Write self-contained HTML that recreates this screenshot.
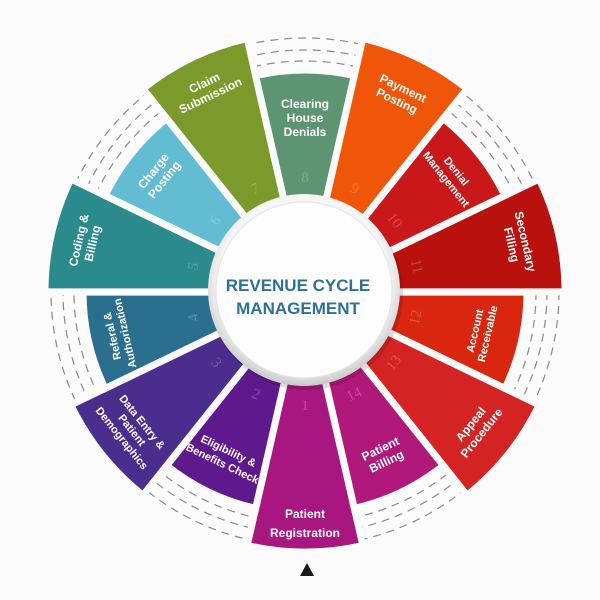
<!DOCTYPE html>
<html><head><meta charset="utf-8"><style>
html,body{margin:0;padding:0;background:#fbfbfb;}
svg{display:block;}
.l{font-family:"Liberation Sans",sans-serif;font-weight:bold;font-size:12px;fill:#fff;text-anchor:middle;}
.s{font-size:11px;}
.n{font-family:"Liberation Serif",serif;font-size:15px;fill:#fff;fill-opacity:0.22;text-anchor:middle;}
</style></head><body>
<svg width="600" height="600" viewBox="0 0 600 600" xmlns="http://www.w3.org/2000/svg">
<defs>
<radialGradient id="cg" cx="50%" cy="45%" r="55%">
<stop offset="0" stop-color="#ffffff"/><stop offset="0.8" stop-color="#f6f6f6"/><stop offset="0.9" stop-color="#e2e2e2"/><stop offset="1" stop-color="#c8c8c8"/>
</radialGradient>
<path id="L" d="M-17.8,-78 L-57.85,-253.5 A260,260 0 0 1 57.85,-253.5 L17.8,-78 Z"/>
<path id="S" d="M-17.8,-78 L-49.4,-216.4 A222,222 0 0 1 49.4,-216.4 L17.8,-78 Z"/>
</defs>
<g fill="none" stroke="#8a8a8a" stroke-width="1.2" stroke-dasharray="8 6">
<circle cx="305" cy="292" r="217"/><circle cx="305" cy="292" r="231"/><circle cx="305" cy="292" r="242"/><circle cx="305" cy="292" r="254"/>
</g>
<g transform="translate(305,292)" stroke="#fbfbfb" stroke-width="7" stroke-linejoin="miter">
<use href="#L" fill="#a8177f" transform="rotate(180)"/>
<use href="#S" fill="#5e1a8c" transform="rotate(205.7)"/>
<use href="#L" fill="#4a2d8c" transform="rotate(231.4)"/>
<use href="#S" fill="#2b6f8f" transform="rotate(257.1)"/>
<use href="#L" fill="#2a8a8c" transform="rotate(282.9)"/>
<use href="#S" fill="#62bcd2" transform="rotate(308.6)"/>
<use href="#L" fill="#7b9a2b" transform="rotate(334.3)"/>
<use href="#S" fill="#5d9472" transform="rotate(0)"/>
<use href="#L" fill="#f0560a" transform="rotate(25.7)"/>
<use href="#S" fill="#c9181a" transform="rotate(51.4)"/>
<use href="#L" fill="#b8110e" transform="rotate(77.1)"/>
<use href="#S" fill="#d8260f" transform="rotate(102.9)"/>
<use href="#L" fill="#d42323" transform="rotate(128.6)"/>
<use href="#S" fill="#b0187a" transform="rotate(154.3)"/>
</g>
<g transform="translate(305,292)">
<g transform="rotate(0)"><text class="l" y="226">Patient</text><text class="l" y="245">Registration</text><text class="n" y="118">1</text></g>
<g transform="rotate(25.7)"><text class="l s" y="180">Eligibility &amp;</text><text class="l s" y="194">Benefits Check</text><text class="n" y="118">2</text></g>
<g transform="rotate(51.4)"><text class="l s" y="212">Data Entry &amp;</text><text class="l s" y="225">Patient</text><text class="l s" y="238">Demographics</text><text class="n" y="118">3</text></g>
<g transform="rotate(-102.9)"><text class="l s" y="-194">Referal &amp;</text><text class="l s" y="-181">Authorization</text><text class="n" y="-110">4</text></g>
<g transform="rotate(-77.1)"><text class="l" y="-228">Coding &amp;</text><text class="l" y="-214">Billing</text><text class="n" y="-110">5</text></g>
<g transform="rotate(-51.4)"><text class="l" y="-190">Charge</text><text class="l" y="-176">Posting</text><text class="n" y="-110">6</text></g>
<g transform="rotate(-25.7)"><text class="l" y="-228">Claim</text><text class="l" y="-214">Submission</text><text class="n" y="-110">7</text></g>
<g transform="rotate(0)"><text class="l" y="-184">Clearing</text><text class="l" y="-170">House</text><text class="l" y="-156">Denials</text><text class="n" y="-110">8</text></g>
<g transform="rotate(25.7)"><text class="l" y="-222">Payment</text><text class="l" y="-208">Posting</text><text class="n" y="-110">9</text></g>
<g transform="rotate(51.4)"><text class="l s" y="-190">Denial</text><text class="l s" y="-177">Management</text><text class="n" y="-110">10</text></g>
<g transform="rotate(77.1)"><text class="l" y="-222">Secondary</text><text class="l" y="-208">Filling</text><text class="n" y="-110">11</text></g>
<g transform="rotate(-77.1)"><text class="l s" y="178">Account</text><text class="l s" y="191">Receivable</text><text class="n" y="118">12</text></g>
<g transform="rotate(-51.4)"><text class="l" y="216">Appeal</text><text class="l" y="230">Procedure</text><text class="n" y="118">13</text></g>
<g transform="rotate(-25.7)"><text class="l" y="178">Patient</text><text class="l" y="192">Billing</text><text class="n" y="118">14</text></g>
</g>
<circle cx="306" cy="293" r="97" fill="#000" fill-opacity="0.12"/>
<circle cx="304" cy="290" r="96" fill="url(#cg)"/>
<circle cx="304" cy="290" r="88" fill="#fdfdfd" stroke="#e4e4e4" stroke-width="1"/>
<text x="298" y="291" font-family="Liberation Sans,sans-serif" font-weight="bold" font-size="17" fill="#2d7293" text-anchor="middle">REVENUE CYCLE</text>
<text x="298" y="314" font-family="Liberation Sans,sans-serif" font-weight="bold" font-size="17" fill="#2d7293" text-anchor="middle">MANAGEMENT</text>
<polygon points="307,563 300,576 314,576" fill="#1a1a1a"/>
</svg>
</body></html>
